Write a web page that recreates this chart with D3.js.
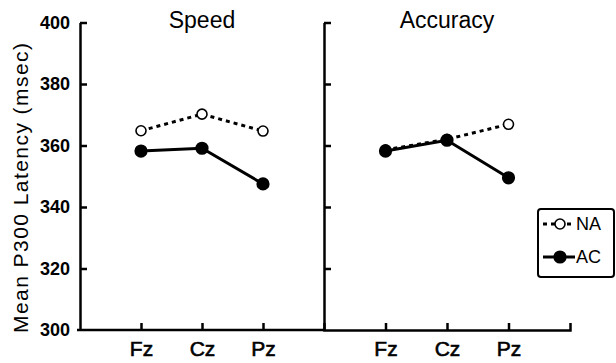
<!DOCTYPE html>
<html>
<head>
<meta charset="utf-8">
<script src="https://cdn.jsdelivr.net/npm/d3@7"></script>
<style>
  body { margin: 0; background: #fff; }
  svg { font-family: "Liberation Sans", Arial, Helvetica, sans-serif; }
</style>
</head>
<body>
<div id="chart"></div>
<script>
const sites = ['Fz', 'Cz', 'Pz'];
const panels = ['Speed', 'Accuracy'];
const yTicks = [300, 320, 340, 360, 380, 400];
const speedNA = [364.8, 370.2, 364.7];
const speedAC = [358.2, 359.1, 347.5];
const accuracyNA = [358.6, 362.0, 366.9];
const accuracyAC = [358.2, 361.7, 349.5];
const groups = ['NA', 'AC'];

const width = 616, height = 363;
const svg = d3.select('#chart').append('svg')
  .attr('width', width)
  .attr('height', height);

const y = d3.scaleLinear().domain([300, 400]).range([330, 22.5]);

const panelData = [
  { title: panels[0], x0: 80, x1: 324, series: [speedNA, speedAC] },
  { title: panels[1], x0: 324, x1: 570, series: [accuracyNA, accuracyAC] }
];

const styleFor = {
  NA: { dash: '4,4', fill: '#fff' },
  AC: { dash: null, fill: '#000' }
};

panelData.forEach((p, pi) => {
  const x = d3.scalePoint().domain(sites).range([p.x0, p.x1]).padding(1);
  const g = svg.append('g');

  // y axis
  const yAxis = d3.axisLeft(y).tickValues(yTicks).tickSize(-7).tickSizeOuter(0).tickPadding(10);
  if (pi > 0) yAxis.tickFormat('');
  const ya = g.append('g').attr('transform', `translate(${p.x0},0)`).call(yAxis);
  ya.selectAll('.tick').filter(d => d === 300).select('line').remove();

  // x axis
  const xAxis = d3.axisBottom(x).tickSize(-7).tickSizeOuter(pi > 0 ? -7 : 0).tickPadding(11);
  const xa = g.append('g').attr('transform', `translate(0,${y(300)})`).call(xAxis);
  if (pi === 0) xa.select('.domain').attr('d', `M${p.x0 - 3},0H${p.x1}`);

  [ya, xa].forEach(a => {
    a.attr('font-size', null).attr('font-family', null);
    a.select('.domain').attr('stroke', '#000').attr('stroke-width', 2.5);
    a.selectAll('.tick line').attr('stroke', '#000').attr('stroke-width', 2.5);
    a.selectAll('.tick text').attr('fill', '#000')
      .style('font-size', '18px').style('font-weight', 'bold');
  });
  xa.selectAll('.tick text').style('font-size', '21px').style('font-weight', 'normal')
    .style('stroke', '#000').style('stroke-width', 0.6)
    .attr('dy', '0.71em');

  // title
  g.append('text')
    .attr('x', (x(sites[0]) + x(sites[2])) / 2)
    .attr('y', 28)
    .attr('text-anchor', 'middle')
    .style('font-size', '23px')
    .text(p.title);

  const line = d3.line().x((d, i) => x(sites[i])).y(d => y(d));

  // draw NA first, AC on top
  p.series.forEach((vals, si) => {
    const st = styleFor[groups[si]];
    g.append('path')
      .datum(vals)
      .attr('d', line)
      .attr('fill', 'none')
      .attr('stroke', '#000')
      .attr('stroke-width', 3)
      .attr('stroke-dasharray', st.dash);
  });
  p.series.forEach((vals, si) => {
    const st = styleFor[groups[si]];
    g.selectAll(null)
      .data(vals)
      .enter().append('circle')
      .attr('cx', (d, i) => x(sites[i]))
      .attr('cy', d => y(d))
      .attr('r', si === 0 ? 5 : 5.8)
      .attr('fill', st.fill)
      .attr('stroke', '#000')
      .attr('stroke-width', 1.6);
  });
});

// y axis label
svg.append('text')
  .attr('transform', 'translate(28,188) rotate(-90)')
  .attr('text-anchor', 'middle')
  .style('font-size', '21px')
  .attr('textLength', 290)
  .attr('lengthAdjust', 'spacing')
  .text('Mean P300 Latency (msec)');

// legend
const lg = svg.append('g');
lg.append('rect')
  .attr('x', 538).attr('y', 209)
  .attr('width', 76).attr('height', 68)
  .attr('rx', 3)
  .attr('fill', '#fff')
  .attr('stroke', '#000')
  .attr('stroke-width', 2);

groups.forEach((gname, i) => {
  const st = styleFor[gname];
  const ly = 224 + i * 33;
  lg.append('line')
    .attr('x1', 543).attr('x2', 575)
    .attr('y1', ly).attr('y2', ly)
    .attr('stroke', '#000')
    .attr('stroke-width', 3)
    .attr('stroke-dasharray', st.dash);
  lg.append('circle')
    .attr('cx', 560).attr('cy', ly)
    .attr('r', i === 0 ? 5 : 5.8)
    .attr('fill', st.fill)
    .attr('stroke', '#000')
    .attr('stroke-width', 1.6);
  lg.append('text')
    .attr('x', 576).attr('y', ly)
    .attr('dy', '0.36em')
    .style('font-size', '18px')
    .text(gname);
});
</script>
</body>
</html>
